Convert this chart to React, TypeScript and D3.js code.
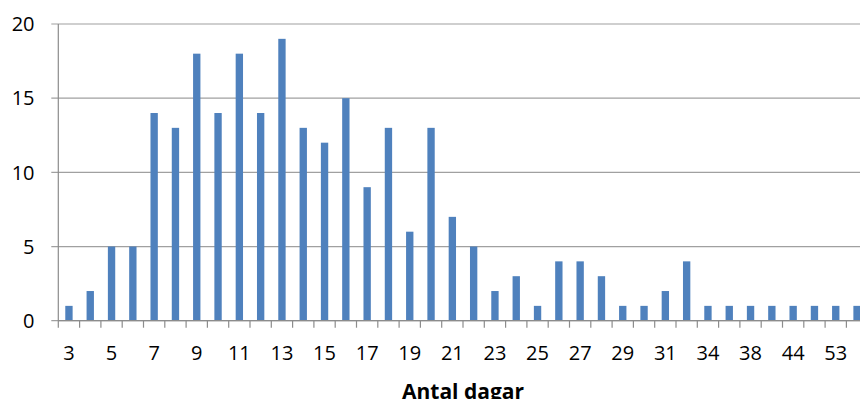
import React from "react";
import * as d3 from "d3";

const categories: string[] = [
  "3","4","5","6","7","8","9","10","11","12","13","14","15","16","17","18","19","20",
  "21","22","23","24","25","26","27","28","29","30","31","33","34","36","38","40","44","47","53","60",
];
const values: number[] = [
  1,2,5,5,14,13,18,14,18,14,19,13,12,15,9,13,6,13,
  7,5,2,3,1,4,4,3,1,1,2,4,1,1,1,1,1,1,1,1,
];
const yTicks: number[] = [0, 5, 10, 15, 20];
const xTitle = "Antal dagar";

const W = 860;
const H = 399;
const left = 58.3;
const step = 21.3;
const top = 24;
const bottom = 320.7;

export default function App() {
  const x = d3
    .scaleBand<string>()
    .domain(categories)
    .range([left, left + step * categories.length])
    .padding(0);
  const y = d3.scaleLinear().domain([0, 20]).range([bottom, top]);
  const bw = x.bandwidth() * 0.345;
  const font = "'Open Sans', 'Liberation Sans', sans-serif";
  const right = left + step * categories.length;

  return (
    <svg
      width={W}
      height={H}
      style={{ position: "absolute", left: 0, top: 0, display: "block" }}
    >
      <rect width={W} height={H} fill="#fff" />
      {yTicks.map((t) => (
        <g key={t}>
          <line
            x1={left - 7}
            x2={right}
            y1={y(t)}
            y2={y(t)}
            stroke="#a0a0a0"
            strokeWidth={1.2}
          />
          <text
            x={34.5}
            y={y(t)}
            dy="0.36em"
            textAnchor="end"
            fontFamily={font}
            fontSize={20}
            fill="#000"
          >
            {t}
          </text>
        </g>
      ))}
      {categories.map((c, i) => (
        <rect
          key={c}
          x={(x(c) as number) + x.bandwidth() / 2 - bw / 2}
          y={y(values[i])}
          width={bw}
          height={y(0) - y(values[i])}
          fill="#4f81bd"
        />
      ))}
      <line x1={left} x2={left} y1={top} y2={bottom} stroke="#8c8c8c" strokeWidth={1.2} />
      <line x1={left} x2={right} y1={bottom} y2={bottom} stroke="#8c8c8c" strokeWidth={1.2} />
      {categories.map((c) => (
        <line
          key={"t" + c}
          x1={x(c) as number}
          x2={x(c) as number}
          y1={bottom}
          y2={bottom + 7}
          stroke="#8c8c8c"
          strokeWidth={1.2}
        />
      ))}
      <line x1={right} x2={right} y1={bottom} y2={bottom + 7} stroke="#8c8c8c" strokeWidth={1.2} />
      {categories.map((c, i) =>
        i % 2 === 0 ? (
          <text
            key={"l" + c}
            x={(x(c) as number) + x.bandwidth() / 2}
            y={360}
            textAnchor="middle"
            fontFamily={font}
            fontSize={20}
            fill="#000"
          >
            {c}
          </text>
        ) : null
      )}
      <text
        x={463}
        y={399}
        textAnchor="middle"
        fontFamily={font}
        fontWeight="bold"
        fontSize={21}
        fill="#000"
      >
        {xTitle}
      </text>
    </svg>
  );
}
